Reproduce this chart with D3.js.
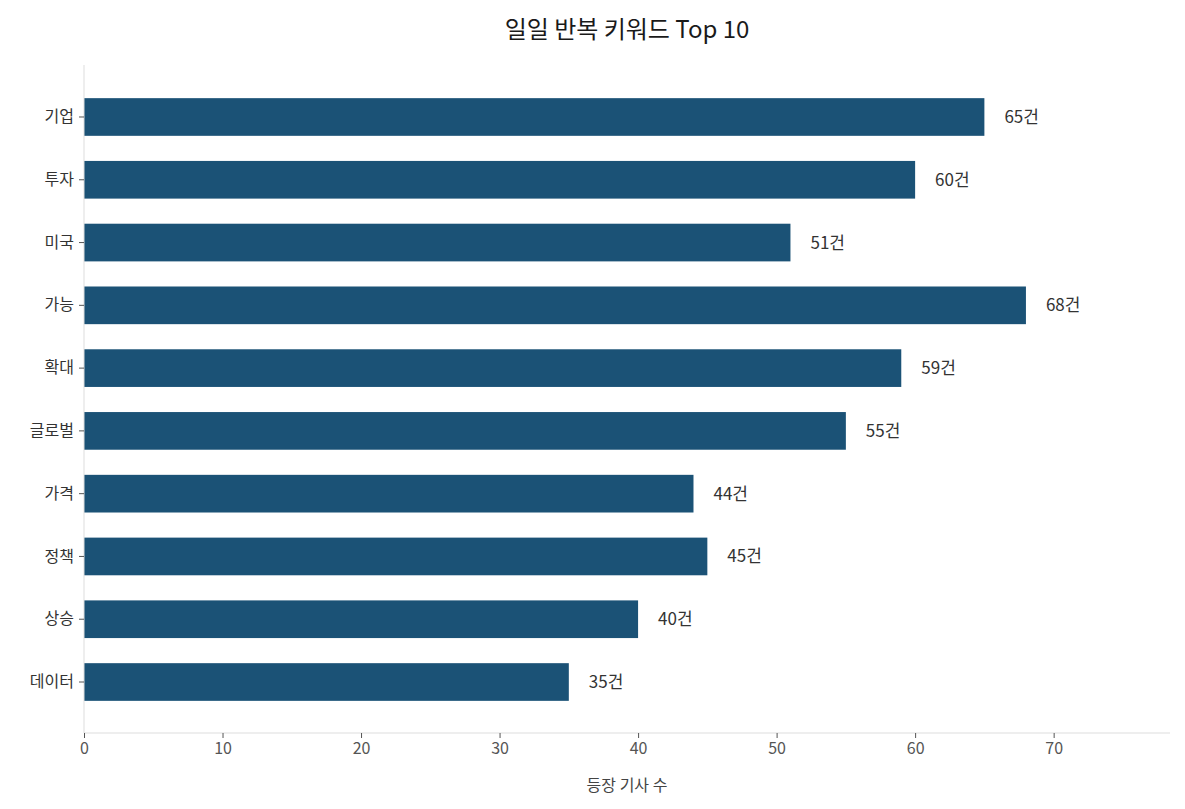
<!DOCTYPE html>
<html><head><meta charset="utf-8">
<script src="https://cdn.jsdelivr.net/npm/d3@7"></script>
<style>body{margin:0;background:#fff;font-family:"Noto Sans CJK KR","Noto Sans",sans-serif;}</style>
</head><body><div id="chart"></div>
<script>
// 데이터
const keywords = ["기업","투자","미국","가능","확대","글로벌","가격","정책","상승","데이터"];
const counts = [65,60,51,68,59,55,44,45,40,35];
const xTicks = [0,10,20,30,40,50,60,70];

const width = 1185, height = 809;
const svg = d3.select("#chart").append("svg").attr("width", width).attr("height", height);

const x = d3.scaleLinear().domain([0, 78.4]).range([84, 1170]);
const y = d3.scaleBand().domain(keywords).range([85.6, 713.4]).paddingInner(0.4).paddingOuter(0.2);

svg.append("text").attr("x", 627).attr("y", 38).attr("text-anchor", "middle")
  .attr("font-size", 24).attr("fill", "#1a1a1a").text("일일 반복 키워드 Top 10");

// 막대
svg.selectAll("rect.bar").data(keywords).join("rect")
  .attr("x", x(0)).attr("y", d => y(d))
  .attr("width", (d, i) => x(counts[i]) - x(0))
  .attr("height", y.bandwidth()).attr("fill", "#1b5276");

svg.selectAll("text.val").data(keywords).join("text")
  .attr("x", (d, i) => x(counts[i]) + 20).attr("y", d => y(d) + y.bandwidth() / 2)
  .attr("dy", "0.35em").attr("font-size", 17).attr("fill", "#333")
  .text((d, i) => counts[i] + "건");

// 축
const xAxis = svg.append("g").attr("transform", "translate(0,733)")
  .call(d3.axisBottom(x).tickValues(xTicks).tickSize(5).tickPadding(5));
const yAxis = svg.append("g").attr("transform", "translate(84,0)")
  .call(d3.axisLeft(y).tickSize(5).tickPadding(5));
yAxis.select(".domain").attr("d", "M0,65V733");
xAxis.select(".domain").attr("d", "M84,0H1170");
[xAxis, yAxis].forEach(g => {
  g.select(".domain").attr("stroke", "#ddd");
  g.selectAll(".tick line").attr("stroke", "#555");
  g.selectAll(".tick text").attr("font-family", "Noto Sans CJK KR").attr("font-size", 16);
});
xAxis.selectAll(".tick text").attr("fill", "#555");
yAxis.selectAll(".tick text").attr("fill", "#333");

svg.append("text").attr("x", 627).attr("y", 791).attr("text-anchor", "middle")
  .attr("font-size", 16).attr("fill", "#444").text("등장 기사 수");
</script></body></html>
